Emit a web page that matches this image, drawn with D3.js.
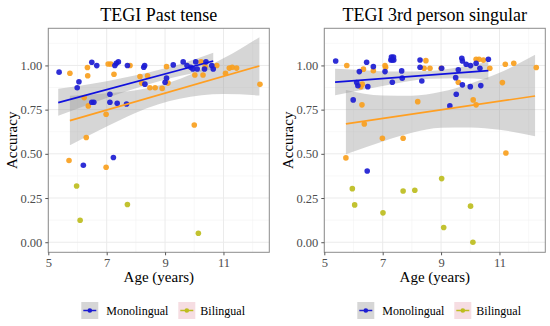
<!DOCTYPE html>
<html>
<head>
<meta charset="utf-8">
<script src="https://cdn.jsdelivr.net/npm/d3@7"></script>
<style>
  body { margin: 0; background: #fff; }
  svg text { font-family: "Liberation Serif", "DejaVu Serif", serif; }
</style>
</head>
<body>
<div id="chart"></div>
<script>
// ---- data: [age, accuracy] ----
const pastMono = [[5.37,0.962],[5.99,0.874],[6.05,0.908],[6.49,1.018],[6.66,0.999],[6.49,0.792],[6.56,0.792],
  [7.11,0.837],[7.11,0.792],[7.36,0.786],[7.68,0.782],[7.28,1.0],[7.33,1.012],[7.4,1.02],[7.71,1.0],
  [8.27,0.99],[8.3,1.0],[8.31,0.894],[9.0,0.905],[9.05,0.928],[9.28,1.003],[9.62,1.02],[9.75,1.0],[9.88,0.99],
  [9.95,0.98],[10.05,1.02],[10.1,0.98],[10.35,0.98],[10.4,1.02],[10.6,1.0],[10.65,0.98],[7.23,0.479],[6.2,0.435]];
const pastBi = [[5.74,0.956],[6.34,0.988],[6.35,0.942],[6.23,0.818],[6.37,0.771],[6.3,0.592],[5.71,0.462],
  [6.98,0.424],[6.98,0.724],[7.05,1.008],[7.14,1.008],[7.25,0.95],[7.8,1.0],[8.14,0.937],[8.2,0.9],[8.4,0.942],
  [8.48,0.874],[8.66,0.874],[8.9,0.87],[9.05,0.993],[9.1,0.9],[10.0,0.663],[10.02,0.946],[10.3,0.946],
  [10.23,1.02],[10.37,0.993],[10.77,1.0],[11.07,0.956],[11.2,0.985],[11.3,0.99],[11.45,0.985],[12.25,0.893]];
const pastBiLow = [[5.97,0.318],[6.09,0.124],[7.71,0.213],[10.14,0.051]];

const thirdMono = [[5.39,1.025],[6.2,0.965],[6.11,0.903],[6.15,0.885],[5.99,0.805],[6.45,1.018],[6.49,0.88],
  [6.68,0.993],[7.08,0.965],[7.28,1.031],[7.33,1.031],[7.38,1.031],[7.3,1.047],[7.37,1.047],[7.33,0.905],
  [7.65,0.969],[7.67,0.928],[8.28,1.031],[8.28,0.99],[8.34,0.912],[9.02,0.984],[9.5,0.931],[9.52,0.837],
  [9.3,0.771],[9.59,0.975],[9.71,1.04],[9.73,1.025],[9.73,0.89],[9.86,1.007],[10.01,0.999],[10.0,0.88],
  [10.2,1.012],[10.33,0.984],[10.36,0.886],[10.62,1.035],[6.47,0.403]];
const thirdBi = [[5.77,1.0],[6.34,0.979],[6.3,0.894],[6.25,0.88],[6.29,0.777],[6.37,0.669],[6.68,0.97],
  [7.08,1.0],[7.1,0.99],[6.99,0.588],[7.7,0.588],[8.2,0.795],[8.48,1.027],[8.42,0.984],[8.62,0.984],
  [9.0,0.984],[9.59,0.905],[10.1,0.805],[10.2,0.777],[10.2,1.035],[10.3,1.035],[10.45,1.03],[10.67,0.984],
  [11.1,0.903],[11.2,1.007],[11.49,1.012],[11.22,0.505],[12.26,0.988],[5.74,0.477]];
const thirdBiLow = [[5.96,0.303],[6.04,0.211],[7.01,0.166],[7.7,0.29],[8.1,0.294],[9.02,0.36],[9.09,0.083],
  [10.01,0.204],[10.09,0.0]];

// fitted lines (endpoints) and confidence bands [age, lower, upper]
const pastMonoFit = [[5.34,0.79],[10.65,1.025]];
const pastMonoBand = [[5.34,0.715,0.868],[6.5,0.786,0.896],[7.5,0.844,0.928],[8.5,0.897,0.963],[9.5,0.94,1.007],[10.65,0.978,1.072]];
const pastBiFit = [[5.74,0.688],[12.23,0.997]];
const pastBiBand = [[5.74,0.548,0.828],[7,0.654,0.842],[8,0.733,0.859],[9.5,0.811,0.923],[11,0.838,1.04],[12.23,0.83,1.16]];
const thirdMonoFit = [[5.37,0.906],[10.62,0.971]];
const thirdMonoBand = [[5.37,0.831,0.981],[6.5,0.868,0.972],[7.5,0.899,0.965],[8.6,0.924,0.968],[9.6,0.927,0.989],[10.62,0.921,1.021]];
const thirdBiFit = [[5.74,0.669],[12.22,0.827]];
const thirdBiBand = [[5.74,0.498,0.861],[7,0.57,0.83],[8,0.619,0.829],[9,0.647,0.851],[10,0.649,0.897],[11,0.636,0.958],[12.22,0.60,1.06]];

const titles = ["TEGI Past tense", "TEGI 3rd person singular"];
const xTicks = [5, 7, 9, 11];
const xMinor = [6, 8, 10, 12];
const yTicks = [0, 0.25, 0.5, 0.75, 1];
const yMinor = [0.125, 0.375, 0.625, 0.875, 1.125];
const legendLabels = ["Monolingual", "Bilingual"];

const colMono = "#1c1cd2", colBi = "#f9a01e", colLow = "#bdbd1e";
const lineMono = "#1010dd", lineBi = "#ff9f22";

const width = 550, height = 326;
const svg = d3.select("#chart").append("svg")
    .attr("width", width)
    .attr("height", height);

const panels = [
  { left: 48.3, mono: pastMono, bi: pastBi, low: pastBiLow,
    monoFit: pastMonoFit, monoBand: pastMonoBand, biFit: pastBiFit, biBand: pastBiBand },
  { left: 324.3, mono: thirdMono, bi: thirdBi, low: thirdBiLow,
    monoFit: thirdMonoFit, monoBand: thirdMonoBand, biFit: thirdBiFit, biBand: thirdBiBand }
];

const plotTop = 28.3, plotBottom = 252.3, pw = 221;

panels.forEach((p, i) => {
  const x = d3.scaleLinear().domain([5, 12.57]).range([p.left, p.left + pw]);
  const y = d3.scaleLinear().domain([-0.057, 1.21]).range([plotBottom, plotTop]);
  const g = svg.append("g");

  // grid
  g.selectAll(".xmin").data(xMinor).enter().append("line")
    .attr("x1", d => x(d)).attr("x2", d => x(d)).attr("y1", plotTop).attr("y2", plotBottom)
    .attr("stroke", "#f4f4f4").attr("stroke-width", 0.6);
  g.selectAll(".ymin").data(yMinor).enter().append("line")
    .attr("y1", d => y(d)).attr("y2", d => y(d)).attr("x1", p.left).attr("x2", p.left + pw)
    .attr("stroke", "#f4f4f4").attr("stroke-width", 0.6);
  g.selectAll(".xmaj").data(xTicks).enter().append("line")
    .attr("x1", d => x(d)).attr("x2", d => x(d)).attr("y1", plotTop).attr("y2", plotBottom)
    .attr("stroke", "#ebebeb").attr("stroke-width", 1);
  g.selectAll(".ymaj").data(yTicks).enter().append("line")
    .attr("y1", d => y(d)).attr("y2", d => y(d)).attr("x1", p.left).attr("x2", p.left + pw)
    .attr("stroke", "#ebebeb").attr("stroke-width", 1);

  // confidence bands
  const area = d3.area().curve(d3.curveMonotoneX)
    .x(d => x(d[0])).y0(d => y(d[1])).y1(d => y(d[2]));
  [p.monoBand, p.biBand].forEach(b => {
    g.append("path").datum(b).attr("d", area)
      .attr("fill", "#999999").attr("fill-opacity", 0.4);
  });

  // points
  const dots = (data, col) => g.append("g").selectAll("circle").data(data).enter().append("circle")
    .attr("cx", d => x(d[0])).attr("cy", d => y(d[1])).attr("r", 2.8)
    .attr("fill", col).attr("fill-opacity", 0.92);
  dots(p.bi, colBi);
  dots(p.low, colLow);
  dots(p.mono, colMono);

  // fitted lines
  const line = d3.line().x(d => x(d[0])).y(d => y(d[1]));
  g.append("path").datum(p.biFit).attr("d", line).attr("fill", "none")
    .attr("stroke", lineBi).attr("stroke-width", 1.7);
  g.append("path").datum(p.monoFit).attr("d", line).attr("fill", "none")
    .attr("stroke", lineMono).attr("stroke-width", 1.7);

  // frame
  g.append("rect").attr("x", p.left).attr("y", plotTop).attr("width", pw).attr("height", plotBottom - plotTop)
    .attr("fill", "none").attr("stroke", "#8c8c8c").attr("stroke-width", 1);

  // axes
  const xAxis = g.append("g").attr("transform", `translate(0,${plotBottom})`)
    .call(d3.axisBottom(x).tickValues(xTicks).tickFormat(d3.format("d")).tickSize(3).tickPadding(3));
  const yAxis = g.append("g").attr("transform", `translate(${p.left},0)`)
    .call(d3.axisLeft(y).tickValues(yTicks).tickFormat(d3.format(".2f")).tickSize(3).tickPadding(3));
  [xAxis, yAxis].forEach(a => {
    a.select(".domain").remove();
    a.selectAll(".tick line").attr("stroke", "#555");
    a.selectAll(".tick text").attr("fill", "#4d4d4d")
      .style("font-family", "Liberation Serif").style("font-size", "12.5px");
  });

  // titles
  g.append("text").attr("x", p.left + pw / 2).attr("y", 21)
    .attr("text-anchor", "middle").style("font-size", "18px").attr("fill", "#000")
    .text(titles[i]);
  g.append("text").attr("x", p.left + pw / 2).attr("y", 282)
    .attr("text-anchor", "middle").style("font-size", "15px").text("Age (years)");
  g.append("text").attr("transform", `translate(${p.left - 31},${(plotTop + plotBottom) / 2}) rotate(-90)`)
    .attr("text-anchor", "middle").style("font-size", "15px").text("Accuracy");

  // legend
  const lg = g.append("g").attr("transform", `translate(${p.left + 33},302)`);
  const keys = [
    { dx: 0, fill: "#d6d6d6", col: colMono, tx: 25 },
    { dx: 97, fill: "#f6dde2", col: colLow, tx: 119 }
  ];
  keys.forEach((k, j) => {
    lg.append("rect").attr("x", k.dx).attr("y", 0).attr("width", 17).attr("height", 17).attr("fill", k.fill);
    lg.append("line").attr("x1", k.dx + 2).attr("x2", k.dx + 15).attr("y1", 8.5).attr("y2", 8.5)
      .attr("stroke", k.col).attr("stroke-width", 1.5);
    lg.append("circle").attr("cx", k.dx + 8.5).attr("cy", 8.5).attr("r", 2.3).attr("fill", k.col);
    lg.append("text").attr("x", k.tx).attr("y", 13).style("font-size", "12px").text(legendLabels[j]);
  });
});
</script>
</body>
</html>
